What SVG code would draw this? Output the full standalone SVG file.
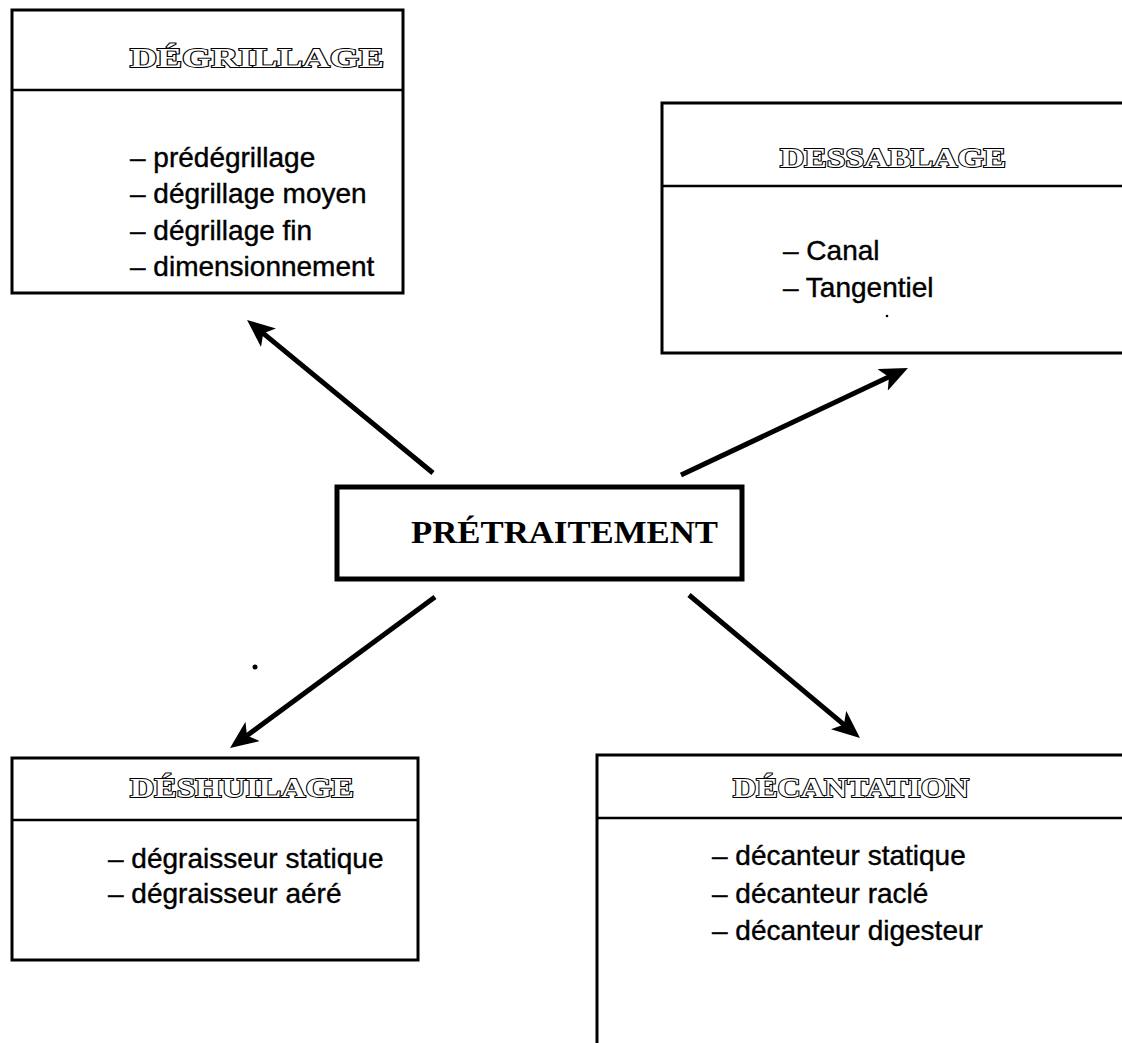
<svg xmlns="http://www.w3.org/2000/svg" width="1122" height="1043" viewBox="0 0 1122 1043">
<defs>
<style>
.box{fill:none;stroke:#000;stroke-width:3}
.div{stroke:#000;stroke-width:2.5}
.hdr{font-family:"Liberation Serif","DejaVu Serif",serif;font-weight:bold;font-size:28px;fill:#fff;stroke:#000;stroke-width:2;paint-order:stroke}
.item{font-family:"Liberation Sans",Arial,sans-serif;font-size:28px;fill:#000;stroke:#000;stroke-width:0.4}
.main{font-family:"Liberation Serif","DejaVu Serif",serif;font-weight:bold;font-size:31px;fill:#000}
.arr{stroke:#000;stroke-width:5;fill:none;marker-end:url(#ah)}
</style>
<marker id="ah" markerUnits="userSpaceOnUse" markerWidth="30" markerHeight="24" viewBox="0 0 30 24" refX="16" refY="12" orient="auto">
<path d="M0,0 L28,12 L0,24 L7,12 Z" fill="#000"/>
</marker>
</defs>
<rect width="1122" height="1043" fill="#fff"/>

<g id="degrillage">
<rect class="box" x="12" y="10" width="391" height="283"/>
<line class="div" x1="12" y1="90" x2="403" y2="90"/>
<text class="hdr" x="130" y="67" textLength="254" lengthAdjust="spacingAndGlyphs">DÉGRILLAGE</text>
<text class="item" x="130" y="167">– prédégrillage</text>
<text class="item" x="130" y="203">– dégrillage moyen</text>
<text class="item" x="130" y="240">– dégrillage fin</text>
<text class="item" x="130" y="276">– dimensionnement</text>
</g>

<g id="dessablage">
<rect class="box" x="662" y="103" width="480" height="250"/>
<line class="div" x1="662" y1="186" x2="1122" y2="186"/>
<text class="hdr" x="780" y="167" textLength="226" lengthAdjust="spacingAndGlyphs">DESSABLAGE</text>
<text class="item" x="783" y="260">– Canal</text>
<text class="item" x="783" y="297">– Tangentiel</text>
<circle cx="887" cy="316" r="1.3" fill="#000"/>
</g>

<g id="pretraitement">
<rect x="337" y="487" width="405" height="92" fill="none" stroke="#000" stroke-width="5"/>
<text class="main" x="411" y="543" textLength="307" lengthAdjust="spacingAndGlyphs">PRÉTRAITEMENT</text>
</g>

<g id="deshuilage">
<rect class="box" x="12" y="758" width="406" height="202"/>
<line class="div" x1="12" y1="820" x2="418" y2="820"/>
<text class="hdr" x="130" y="797" textLength="224" lengthAdjust="spacingAndGlyphs">DÉSHUILAGE</text>
<text class="item" x="108" y="868">– dégraisseur statique</text>
<text class="item" x="108" y="903">– dégraisseur aéré</text>
</g>

<g id="decantation">
<rect class="box" x="597" y="755" width="560" height="320"/>
<line class="div" x1="597" y1="818" x2="1122" y2="818"/>
<text class="hdr" x="733" y="797" textLength="236" lengthAdjust="spacingAndGlyphs">DÉCANTATION</text>
<text class="item" x="712" y="865">– décanteur statique</text>
<text class="item" x="712" y="903">– décanteur raclé</text>
<text class="item" x="712" y="940">– décanteur digesteur</text>
</g>

<g id="connectors">
<line class="arr" x1="433" y1="473" x2="256.3" y2="327.6"/>
<line class="arr" x1="681" y1="475" x2="897.1" y2="373.1"/>
<line class="arr" x1="435" y1="597" x2="239.7" y2="740.9"/>
<line class="arr" x1="689" y1="595" x2="850.8" y2="730.3"/>
<circle cx="255" cy="667" r="2.5" fill="#000"/>
</g>
</svg>
